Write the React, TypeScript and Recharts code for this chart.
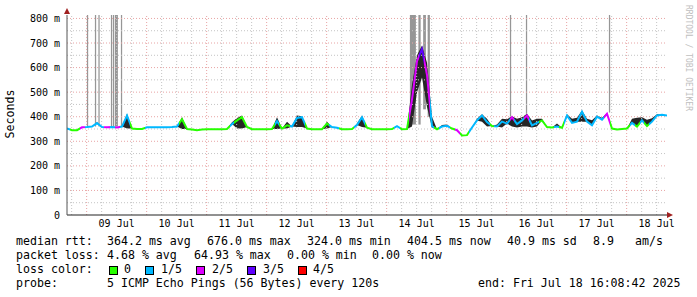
import {
  Area,
  ComposedChart,
  Line,
  ReferenceArea,
  ReferenceLine,
  XAxis,
  YAxis,
} from "recharts";

const MONO = '"DejaVu Sans Mono", monospace';

// hours since Jul 8 00:00, one sample every 2 h starting Jul 8 16:08
const START_HOUR = 16.14;
const END_HOUR = 256.14;
const STEP_HOURS = 2;
const Y_MAX = 814;

const medianMs = [
  352, 345, 345, 357, 358, 360, 374, 358, 357, 358,
  356, 360, 405, 352, 350, 350, 357, 357, 357, 357,
  357, 358, 360, 390, 350, 348, 345, 348, 349, 349,
  349, 349, 350, 370, 385, 398, 358, 349, 349, 349,
  349, 350, 382, 352, 365, 360, 395, 398, 352, 349,
  349, 349, 372, 358, 355, 349, 349, 350, 366, 398,
  355, 349, 349, 349, 349, 350, 362, 349, 350, 470,
  626, 676, 570, 362, 349, 360, 363, 352, 345, 324,
  325, 356, 385, 405, 378, 362, 360, 380, 372, 398,
  370, 385, 405, 365, 375, 385, 358, 356, 360, 355,
  405, 375, 380, 420, 380, 365, 400, 388, 412, 352,
  348, 350, 352, 375, 360, 385, 362, 380, 405, 408,
  404.5,
];

// lost pings out of 5 for each sample
const lossLevel = [
  1, 0, 0, 2, 1, 1, 1, 1, 2, 1,
  2, 1, 1, 0, 0, 0, 1, 1, 1, 1,
  1, 1, 1, 0, 0, 0, 0, 0, 0, 0,
  0, 0, 0, 1, 0, 0, 0, 0, 0, 0,
  0, 0, 1, 0, 0, 1, 1, 1, 0, 0,
  0, 0, 0, 1, 1, 0, 0, 0, 1, 1,
  0, 0, 0, 0, 0, 0, 1, 0, 0, 2,
  2, 3, 2, 1, 0, 1, 1, 0, 2, 0,
  0, 1, 1, 1, 1, 0, 1, 1, 1, 2,
  1, 1, 2, 1, 1, 0, 0, 0, 1, 0,
  1, 1, 1, 1, 1, 1, 1, 1, 2, 0,
  0, 0, 0, 1, 0, 1, 0, 1, 1, 1,
  1,
];

// spread of the individual pings around the median (null = none visible)
const smokeHighMs = [
  null, null, null, null, null, null, 378, null, null, null,
  null, null, 412, null, null, null, null, null, null, null,
  null, null, null, 398, null, null, null, null, null, null,
  null, null, null, 378, 395, 405, null, null, null, null,
  null, null, 398, null, 380, null, 405, 402, null, null,
  null, null, 380, null, null, null, null, null, 372, 405,
  null, null, null, null, null, null, null, null, null, 530,
  650, 690, 620, 400, null, 366, 368, null, null, null,
  null, null, 392, 410, 392, null, 368, 392, 390, 402,
  392, 398, 412, 385, 392, 392, null, null, 372, null,
  410, 392, 396, 425, 392, 386, 405, 396, 415, null,
  null, null, null, 392, 396, 398, 388, 394, 410, null,
  null,
];

const smokeLowMs = [
  null, null, null, null, null, null, null, null, null, null,
  null, null, 352, null, null, null, null, null, null, null,
  null, null, null, 350, null, null, null, null, null, null,
  null, null, null, null, 352, 352, null, null, null, null,
  null, null, 350, null, 352, null, 358, 358, null, null,
  null, null, 352, null, null, null, null, null, null, 358,
  null, null, null, null, null, null, null, null, null, 360,
  500, 560, 440, 356, null, null, null, null, null, null,
  null, null, null, 380, 360, null, null, 356, null, 360,
  356, 360, 360, 356, 360, null, null, null, null, null,
  null, null, null, 380, null, null, null, null, null, null,
  null, null, null, null, null, null, null, null, null, null,
  null,
];

// pings that went off the top of the graph
const spikeFromHour = [24.1, 27.3, 28.7, 33.7, 34.5, 35.3, 37.7, 153.3, 156.7, 158.6, 160.4, 193.3, 199.7, 232.9];
const spikeToHour = [24.6, 27.8, 29.2, 34.2, 35.0, 36.5, 38.2, 155.7, 157.6, 159.7, 161.3, 193.8, 200.2, 233.4];
const spikeBaseMs = [360, 360, 360, 360, 360, 360, 360, 368, 368, 430, 400, 400, 412, 417];

const dayTicks = [36, 60, 84, 108, 132, 156, 180, 204, 228, 252];
const dayLabels = ["09 Jul", "10 Jul", "11 Jul", "12 Jul", "13 Jul", "14 Jul", "15 Jul", "16 Jul", "17 Jul", "18 Jul"];
const midnightHours = [24, 48, 72, 96, 120, 144, 168, 192, 216, 240];
const sixHourHours = [
  18, 30, 36, 42, 54, 60, 66, 78, 84, 90, 102, 108, 114, 126, 132, 138,
  150, 156, 162, 174, 180, 186, 198, 204, 210, 222, 228, 234, 246, 252,
];
const msTicks = [0, 100, 200, 300, 400, 500, 600, 700, 800];
const halfMsTicks = [50, 150, 250, 350, 450, 550, 650, 750];

const lossColors = ["#26ff00", "#00b8ff", "#dd00ff", "#5e00ff", "#ff0000"];
const lossNames = ["0", "1/5", "2/5", "3/5", "4/5"];
const lossBoxX = [109, 145, 196, 247, 298];
const lossNameX = [124, 161, 212, 263, 313];

const rows = medianMs.map((m, i) => ({
  t: START_HOUR + i * STEP_HOURS,
  median: m,
  smoke: [smokeLowMs[i] ?? m, smokeHighMs[i] ?? m],
}));

const last = medianMs.length - 1;
// colour of the median follows the loss of each sample
const lossStops = lossLevel.flatMap((lv, i) => [
  <stop key={`a${i}`} offset={Math.max(0, (i - 0.5) / last)} stopColor={lossColors[lv]} />,
  <stop key={`b${i}`} offset={Math.min(1, (i + 0.5) / last)} stopColor={lossColors[lv]} />,
]);

const text = (left: number, top: number, s: string) => (
  <span
    key={`${left}-${top}`}
    style={{ position: "absolute", left, top, whiteSpace: "pre", lineHeight: "14px" }}
  >
    {s}
  </span>
);

export default function App() {
  return (
    <div
      style={{
        position: "absolute",
        left: 0,
        top: 0,
        width: 697,
        height: 297,
        background: "#fff",
        fontFamily: MONO,
        fontSize: 11.6,
        color: "#000",
        overflow: "hidden",
      }}
    >
      <ComposedChart
        width={697}
        height={297}
        data={rows}
        margin={{ top: 15, right: 30, bottom: 62, left: 0 }}
      >
        <defs>
          <linearGradient id="lossStroke" x1="0" y1="0" x2="1" y2="0">
            {lossStops}
          </linearGradient>
        </defs>
        {sixHourHours.map((h) => (
          <ReferenceLine key={`v${h}`} x={h} stroke="#c4c4c4" strokeDasharray="1 2" />
        ))}
        {halfMsTicks.map((v) => (
          <ReferenceLine key={`h${v}`} y={v} stroke="#c4c4c4" strokeDasharray="1 2" />
        ))}
        {midnightHours.map((h) => (
          <ReferenceLine key={`V${h}`} x={h} stroke="#e8a4a4" strokeDasharray="1 2" />
        ))}
        {msTicks.slice(1).map((v) => (
          <ReferenceLine key={`H${v}`} y={v} stroke="#e8a4a4" strokeDasharray="1 2" />
        ))}
        <XAxis
          dataKey="t"
          type="number"
          domain={[START_HOUR, END_HOUR]}
          allowDataOverflow
          ticks={dayTicks}
          tickFormatter={(v) => dayLabels[dayTicks.indexOf(v)] ?? ""}
          tickLine={false}
          tickSize={2}
          tickMargin={3}
          height={20}
          axisLine={{ stroke: "#222" }}
          tick={{ fill: "#000", fontSize: 10, fontFamily: MONO }}
        />
        <YAxis
          type="number"
          domain={[0, Y_MAX]}
          allowDataOverflow
          ticks={msTicks}
          tickFormatter={(v) => (v === 0 ? "0" : `${v} m`)}
          tickLine={false}
          tickSize={4}
          tickMargin={3}
          width={67}
          axisLine={{ stroke: "#555" }}
          tick={{ fill: "#000", fontSize: 10, fontFamily: MONO }}
        />
        {spikeFromHour.map((h, i) => (
          <ReferenceArea
            key={`s${i}`}
            x1={h}
            x2={spikeToHour[i]}
            y1={spikeBaseMs[i]}
            y2={Y_MAX}
            fill="#969696"
            fillOpacity={1}
            stroke="none"
          />
        ))}
        <Area
          dataKey="smoke"
          type="linear"
          fill="#262626"
          fillOpacity={1}
          stroke="none"
          isAnimationActive={false}
        />
        <Line
          dataKey="median"
          type="linear"
          stroke="url(#lossStroke)"
          strokeWidth={2}
          dot={false}
          isAnimationActive={false}
        />
      </ComposedChart>

      {/* axis arrows */}
      <svg
        width={697}
        height={297}
        style={{ position: "absolute", left: 0, top: 0, pointerEvents: "none" }}
      >
        <polygon points="67,8 64,14 70,14" fill="#a02020" />
        <polygon points="673,215 667,212 667,218" fill="#a02020" />
      </svg>

      <div
        style={{
          position: "absolute",
          left: -40,
          top: 107,
          width: 100,
          textAlign: "center",
          lineHeight: "14px",
          transform: "rotate(-90deg)",
        }}
      >
        Seconds
      </div>

      <div
        style={{
          position: "absolute",
          left: 693,
          top: 5,
          fontSize: 8,
          lineHeight: "9px",
          color: "#c0c0c0",
          whiteSpace: "pre",
          transform: "rotate(90deg)",
          transformOrigin: "left top",
        }}
      >
        RRDTOOL / TOBI OETIKER
      </div>

      {text(16, 234, "median rtt:")}
      {text(107, 234, "364.2 ms avg")}
      {text(207, 234, "676.0 ms max")}
      {text(307, 234, "324.0 ms min")}
      {text(407, 234, "404.5 ms now")}
      {text(507, 234, "40.9 ms sd")}
      {text(593, 234, "8.9")}
      {text(635, 234, "am/s")}

      {text(16, 248, "packet loss:")}
      {text(107, 248, "4.68 % avg")}
      {text(194, 248, "64.93 % max")}
      {text(287, 248, "0.00 % min")}
      {text(372, 248, "0.00 % now")}

      {text(16, 262, "loss color:")}
      {lossNames.map((name, i) => (
        <span key={name}>
          <span
            style={{
              position: "absolute",
              left: lossBoxX[i],
              top: 266,
              width: 7,
              height: 7,
              background: lossColors[i],
              border: "1px solid #000",
            }}
          />
          {text(lossNameX[i], 262, name)}
        </span>
      ))}

      {text(16, 276, "probe:")}
      {text(107, 276, "5 ICMP Echo Pings (56 Bytes) every 120s")}
      {text(478, 276, "end: Fri Jul 18 16:08:42 2025")}
    </div>
  );
}
